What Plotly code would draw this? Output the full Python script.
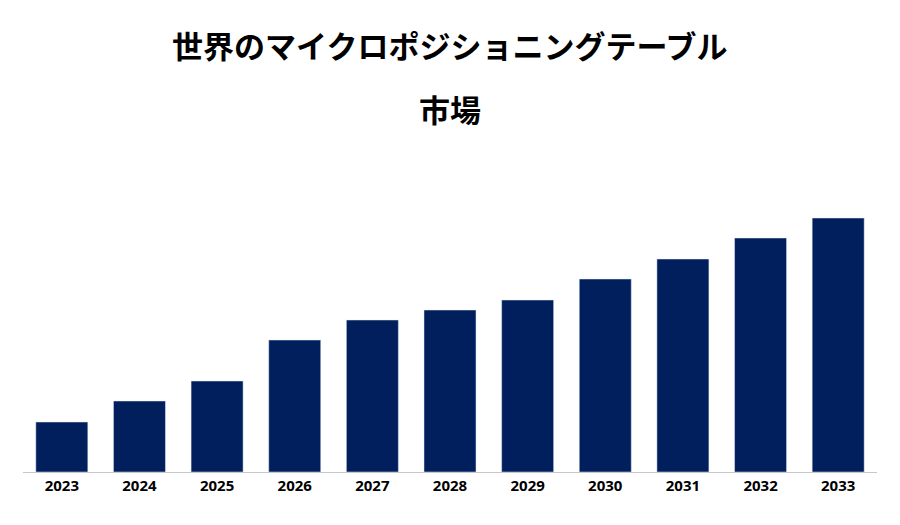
import plotly.graph_objects as go

years = ["2023", "2024", "2025", "2026", "2027", "2028", "2029", "2030", "2031", "2032", "2033"]
values = [50, 71, 91, 132, 152, 162, 172, 193, 213, 234, 254]
title_lines = ["世界のマイクロポジショニングテーブル", "市場"]

fig = go.Figure(go.Bar(x=years, y=values, marker_color="#001f5c"))

# two title lines placed as annotations to get the wide line spacing
for text, ypos in zip(title_lines, [1.57, 1.338]):
    fig.add_annotation(text="<b>" + text + "</b>", x=0.5, y=ypos, xref="paper", yref="paper",
                       xanchor="center", yanchor="middle", showarrow=False,
                       font=dict(family="Noto Sans CJK JP", size=31, color="black"))

fig.update_layout(
    width=884, height=509,
    margin=dict(l=15, r=15, t=192, b=45),
    plot_bgcolor="white", paper_bgcolor="white",
    bargap=0.33, showlegend=False,
    xaxis=dict(showline=True, linecolor="#c8c8c8", linewidth=1, ticks="",
               tickfont=dict(family="Noto Sans", size=15, color="black", weight="bold")),
    yaxis=dict(visible=False, range=[0, 272]),
)

fig.write_html("out.html")
